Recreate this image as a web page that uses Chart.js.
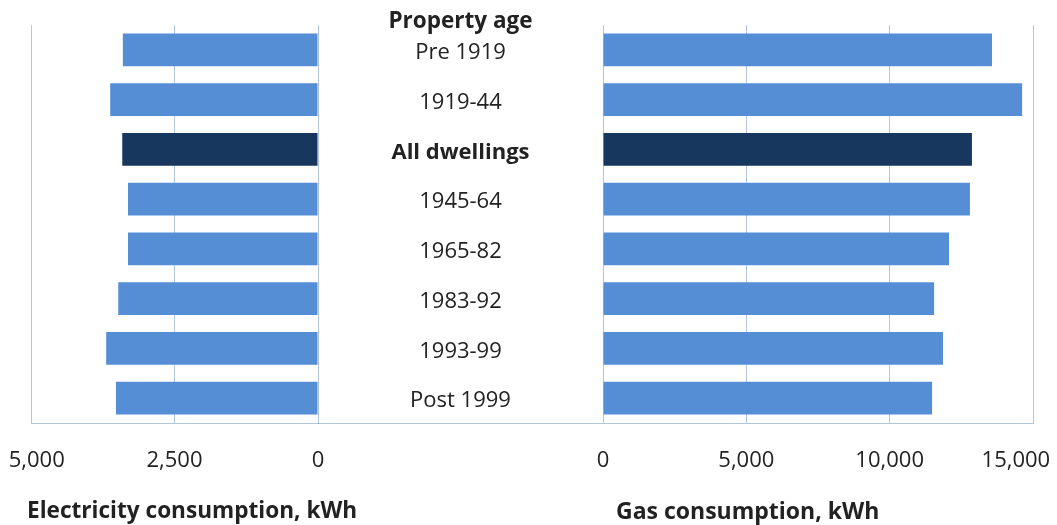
<!DOCTYPE html>
<html>
<head>
<meta charset="utf-8">
<script src="https://cdn.jsdelivr.net/npm/chart.js@4/dist/chart.umd.min.js"></script>
<style>
    body { margin: 0; background: #fff; width: 1057px; height: 525px; overflow: hidden; position: relative; font-family: "Open Sans", sans-serif; color: #222; }
    canvas { position: absolute; top: 0; }
    #elec { left: 0; }
    #gas { left: 318px; }
    .lbl { position: absolute; font-weight: bold; white-space: nowrap; line-height: 28px; }
    #propTitle { left: 318px; width: 285px; top: 6px; text-align: center; font-size: 22.5px; }
    #elecTitle { left: 27px; top: 496px; font-size: 22.6px; }
    #gasTitle { left: 616px; top: 496px; font-size: 23px; }
</style>
</head>
<body>
<canvas id="elec" width="330" height="525"></canvas>
<canvas id="gas" width="739" height="525"></canvas>
<div class="lbl" id="propTitle">Property age</div>
<div class="lbl" id="elecTitle">Electricity consumption, kWh</div>
<div class="lbl" id="gasTitle">Gas consumption, kWh</div>
<script>
const categories = ["Pre 1919", "1919-44", "All dwellings", "1945-64", "1965-82", "1983-92", "1993-99", "Post 1999"],
    electricity = [3400, 3620, 3410, 3310, 3310, 3480, 3690, 3520],
    gas = [13570, 14620, 12870, 12800, 12070, 11550, 11860, 11480],
    highlight = "All dwellings",
    gridColor = "rgba(79, 129, 189, 0.45)",
    textColor = "#222",
    fontFamily = "'Open Sans', sans-serif",
    fontSize = 22,
    labelColWidth = 285

const barColors = categories.map(c => c === highlight ? "#17375e" : "#558ed5")

// widest category label, so the middle column can be centred
const measure = document.createElement("canvas").getContext("2d")
const widest = Math.max(...categories.map(c => {
    measure.font = (c === highlight ? "bold " : "") + fontSize + "px " + fontFamily
    return measure.measureText(c).width
}))

// fixed axis sizes so both charts line up
const fixX = scale => {
    scale.height = 102
    scale.paddingLeft = 0
    scale.paddingRight = 0
}

// outer tick label is nudged inwards like the original
const xAxis = (max, step, pad) => ({
    min: 0,
    max: max,
    z: 1,
    grid: { color: gridColor, drawTicks: false },
    border: { display: true, color: gridColor },
    ticks: {
        stepSize: step,
        padding: 25,
        color: textColor,
        font: { family: fontFamily, size: fontSize },
        callback: function (val) {
            const txt = this.getLabelForValue(val)
            return val === max ? pad(txt) : txt
        }
    },
    afterFit: fixX
})

// left: electricity, axis runs right to left
new Chart(document.getElementById("elec"), {
    type: "bar",
    data: {
        labels: categories,
        datasets: [{ data: electricity, backgroundColor: barColors, barPercentage: 0.66, categoryPercentage: 1 }]
    },
    options: {
        indexAxis: "y",
        responsive: false,
        animation: false,
        layout: { padding: { left: 31, right: 12, top: 25, bottom: 0 } },
        plugins: { legend: { display: false }, tooltip: { enabled: false } },
        scales: {
            x: Object.assign(xAxis(5000, 2500, t => "  " + t), { reverse: true }),
            y: { display: false }
        }
    }
})

// draws the bottom line under the label column
const baseLine = {
    id: "baseLine",
    afterDraw(chart) {
        const { ctx, scales: { x, y } } = chart
        ctx.save()
        ctx.strokeStyle = gridColor
        ctx.lineWidth = 1
        ctx.beginPath()
        ctx.moveTo(y.left, Math.round(x.top) + 0.5)
        ctx.lineTo(x.left, Math.round(x.top) + 0.5)
        ctx.stroke()
        ctx.restore()
    }
}

// right: gas, with the category labels in the middle
new Chart(document.getElementById("gas"), {
    type: "bar",
    data: {
        labels: categories,
        datasets: [{ data: gas, backgroundColor: barColors, barPercentage: 0.66, categoryPercentage: 1 }]
    },
    options: {
        indexAxis: "y",
        responsive: false,
        animation: false,
        layout: { padding: { left: 0, right: 24, top: 25, bottom: 0 } },
        plugins: { legend: { display: false }, tooltip: { enabled: false } },
        scales: {
            x: xAxis(15000, 5000, t => t + "      "),
            y: {
                position: "left",
                grid: { display: false, drawTicks: false },
                border: { display: false },
                ticks: {
                    crossAlign: "center",
                    padding: (labelColWidth - widest) / 2,
                    labelOffset: 3,
                    color: textColor,
                    font: ctx => ({
                        family: fontFamily,
                        size: fontSize,
                        weight: ctx.tick && ctx.tick.label === highlight ? "bold" : "normal"
                    })
                },
                afterFit: scale => {
                    scale.width = labelColWidth
                    scale.paddingTop = 0
                    scale.paddingBottom = 0
                }
            }
        }
    },
    plugins: [baseLine]
})
</script>
</body>
</html>
